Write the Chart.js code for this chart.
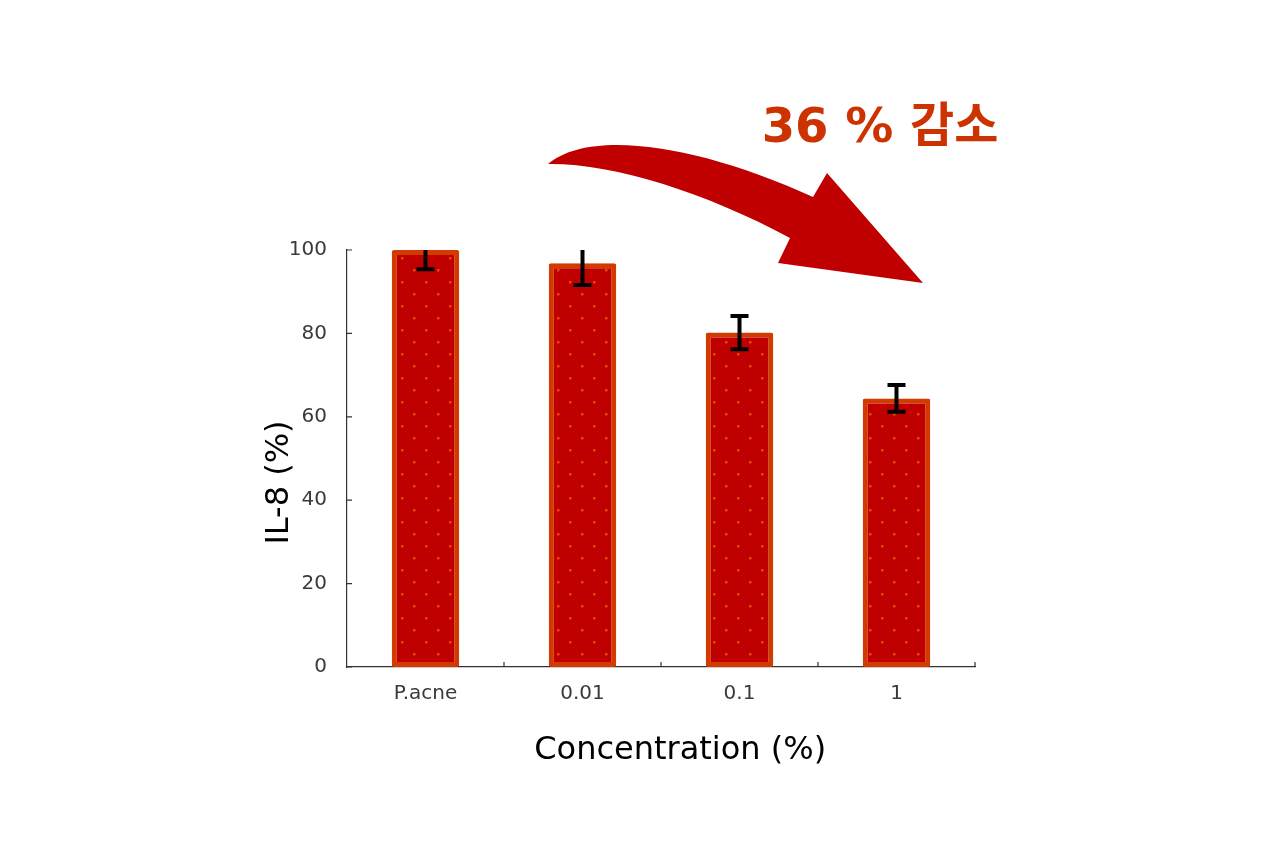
<!DOCTYPE html>
<html>
<head>
<meta charset="utf-8">
<script src="https://cdn.jsdelivr.net/npm/chart.js@4.4.1/dist/chart.umd.min.js"></script>
<style>
  body { margin: 0; background: #fff; }
  canvas { display: block; }
</style>
</head>
<body>
<canvas id="myChart" width="1280" height="849"></canvas>
<script>
const categories = ["P.acne", "0.01", "0.1", "1"];
const il8Values = [100, 96.8, 80.2, 64.4];
const il8Errors = [4.6, 5.2, 4.0, 3.2];
const yTicks = [0, 20, 40, 60, 80, 100];
const noteText = "36 % 감소";

// dotted fill like the original bars
const makeDots = function () {
  const c = document.createElement("canvas");
  c.width = 24;
  c.height = 24;
  const g = c.getContext("2d");
  g.fillStyle = "#c00000";
  g.fillRect(0, 0, 24, 24);
  g.fillStyle = "#e04a00";
  g.fillRect(5, 5, 2.5, 2.5);
  g.fillRect(17, 17, 2.5, 2.5);
  return g.createPattern(c, "repeat");
};

const innerTicks = {
  id: "innerTicks",
  afterDraw(chart) {
    const { ctx, chartArea, scales } = chart;
    ctx.save();
    ctx.strokeStyle = "#333";
    ctx.lineWidth = 1.2;
    ctx.beginPath();
    yTicks.forEach((v) => {
      const y = scales.y.getPixelForValue(v);
      ctx.moveTo(chartArea.left, y);
      ctx.lineTo(chartArea.left + 5, y);
    });
    const step = (chartArea.right - chartArea.left) / categories.length;
    for (let i = 1; i <= categories.length; i++) {
      const x = chartArea.left + step * i;
      ctx.moveTo(x, chartArea.bottom);
      ctx.lineTo(x, chartArea.bottom - 5);
    }
    ctx.stroke();
    ctx.restore();
  },
};

const errorBars = {
  id: "errorBars",
  afterDatasetsDraw(chart) {
    const { ctx, chartArea, scales } = chart;
    ctx.save();
    ctx.beginPath();
    ctx.rect(chartArea.left, chartArea.top, chartArea.right - chartArea.left, chartArea.bottom - chartArea.top);
    ctx.clip();
    ctx.strokeStyle = "#000";
    ctx.lineWidth = 4;
    il8Values.forEach((v, i) => {
      const x = scales.x.getPixelForValue(i);
      const lo = scales.y.getPixelForValue(v - il8Errors[i]);
      const hi = scales.y.getPixelForValue(v + il8Errors[i]);
      ctx.beginPath();
      ctx.moveTo(x, lo);
      ctx.lineTo(x, hi);
      ctx.moveTo(x - 9, lo);
      ctx.lineTo(x + 9, lo);
      ctx.moveTo(x - 9, hi);
      ctx.lineTo(x + 9, hi);
      ctx.stroke();
    });
    ctx.restore();
  },
};

const arrowNote = {
  id: "arrowNote",
  afterDraw(chart) {
    const ctx = chart.ctx;
    ctx.save();
    ctx.fillStyle = "#c00000";
    ctx.beginPath();
    ctx.moveTo(548, 164);
    ctx.bezierCurveTo(590, 128, 700, 145, 813, 197);
    ctx.lineTo(827, 173);
    ctx.lineTo(923, 283);
    ctx.lineTo(778, 263);
    ctx.lineTo(790, 238);
    ctx.bezierCurveTo(705, 192, 612, 163, 548, 164);
    ctx.closePath();
    ctx.fill();
    ctx.fillStyle = "#cc3300";
    ctx.font = "bold 48px 'DejaVu Sans', 'Noto Sans CJK KR'";
    ctx.textAlign = "center";
    ctx.textBaseline = "middle";
    ctx.fillText(noteText, 880, 130);
    ctx.restore();
  },
};

const tickFont = { family: "'DejaVu Sans'", size: 20, weight: 400 };
const titleFont = { family: "'DejaVu Sans'", size: 32, weight: 400 };

const ctx = document.getElementById("myChart").getContext("2d");
const myChart = new Chart(ctx, {
  type: "bar",
  data: {
    labels: categories,
    datasets: [
      {
        label: "IL-8",
        data: il8Values,
        backgroundColor: makeDots(),
        borderColor: "#d23a00",
        borderWidth: 5,
        borderSkipped: false,
        borderRadius: 2,
        barPercentage: 0.43,
        categoryPercentage: 1,
      },
    ],
  },
  options: {
    responsive: false,
    animation: false,
    layout: { padding: { left: 260, right: 305, top: 250, bottom: 0 } },
    plugins: { legend: { display: false }, tooltip: { enabled: false } },
    scales: {
      x: {
        grid: { display: false, drawTicks: false },
        border: { display: true, color: "#333", width: 1.2 },
        ticks: { padding: 15, color: "#3a3a3a", font: tickFont },
        title: {
          display: true,
          text: "\u2003\u2009Concentration (%)",
          color: "#000",
          padding: { top: 0, bottom: 79 },
          font: titleFont,
        },
        afterFit(scale) {
          scale.height = 182;
        },
      },
      y: {
        min: 0,
        max: 100,
        grid: { display: false, drawTicks: false },
        border: { display: true, color: "#333", width: 1.2 },
        ticks: { stepSize: 20, padding: 20, color: "#3a3a3a", font: tickFont },
        title: {
          display: true,
          text: "IL-8 (%)\u2003\u2002",
          color: "#000",
          padding: { top: 0, bottom: 0 },
          font: titleFont,
        },
        afterFit(scale) {
          scale.width = 87;
        },
      },
    },
  },
  plugins: [innerTicks, errorBars, arrowNote],
});
</script>
</body>
</html>
